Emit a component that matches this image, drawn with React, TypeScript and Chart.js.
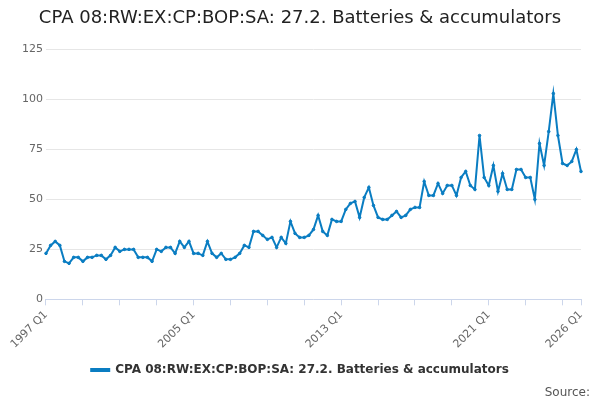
import React, { useEffect, useRef } from "react";
import { Chart, registerables } from "chart.js";
Chart.register(...registerables);

const years = Array.from({ length: 30 }, (_, i) => 1997 + i);
const labels: string[] = [];
years.forEach((y) => ["Q1", "Q2", "Q3", "Q4"].forEach((q) => { if (labels.length < 117) labels.push(`${y} ${q}`); }));
const values = [
  23, 27, 29, 27, 19, 18, 21, 21, 19, 21, 21, 22, 22, 20, 22, 26,
  24, 25, 25, 25, 21, 21, 21, 19, 25, 24, 26, 26, 23, 29, 26,
  29, 23, 23, 22, 29, 23, 21, 23, 20, 20, 21, 23, 27, 26, 34, 34,
  32, 30, 31, 26, 31, 28, 39, 33, 31, 31, 32, 35, 42, 34, 32, 40,
  39, 39, 45, 48, 49, 41, 51, 56, 47, 41, 40, 40, 42, 44, 41, 42,
  45, 46, 46, 59, 52, 52, 58, 53, 57, 57, 52, 61, 64, 57, 55, 82,
  61, 57, 67, 54, 63, 55, 55, 65, 65, 61, 61, 50, 78, 67, 84, 103,
  82, 68, 67, 69, 75, 64,
];
const shownLabels = ["1997 Q1", "2005 Q1", "2013 Q1", "2021 Q1", "2026 Q1"];
const seriesName = "CPA 08:RW:EX:CP:BOP:SA: 27.2. Batteries & accumulators";

export default function App() {
  const ref = useRef<HTMLCanvasElement>(null);
  useEffect(() => {
    const chart = new Chart(ref.current!, {
      type: "line",
      data: {
        labels,
        datasets: [{
          label: seriesName, data: values, borderColor: "#0a7dc2", backgroundColor: "#0a7dc2",
          borderWidth: 2, pointRadius: 1.3, pointHoverRadius: 1.3, pointBorderWidth: 1, tension: 0,
        }],
      },
      options: {
        animation: false, responsive: false,
        layout: { padding: { left: 19, right: 19, top: 0, bottom: 14 } },
        plugins: {
          title: { display: true, text: seriesName, align: "center", color: "#222",
            font: { family: "DejaVu Sans", size: 18, weight: "normal" }, padding: { top: 8, bottom: 20 } },
          legend: { position: "bottom", labels: { color: "#333", font: { family: "DejaVu Sans", size: 12, weight: "bold" }, boxWidth: 18, boxHeight: 2 } },
          tooltip: { enabled: false },
        },
        scales: {
          x: {
            afterBuildTicks: (axis: any) => {
              axis.ticks = axis.ticks.filter((t: any) => t.value % 8 === 0 || t.value === 116);
            },
            ticks: { autoSkip: false, maxRotation: 45, minRotation: 45, color: "#666",
              font: { family: "DejaVu Sans", size: 11 },
              callback: function (this: any, v: any) { const l = labels[v]; return shownLabels.includes(l) ? l : ""; } },
            grid: { drawOnChartArea: false, drawTicks: true, tickLength: 6, color: "#ccd6eb" },
            border: { color: "#ccd6eb" },
          },
          y: {
            min: 0, max: 125,
            ticks: { stepSize: 25, color: "#666", font: { family: "DejaVu Sans", size: 11 } },
            grid: { color: "#e6e6e6", drawTicks: false }, border: { display: false },
          },
        },
      },
      plugins: [{
        id: "src",
        afterDraw: (c: any) => {
          const ctx = c.ctx; ctx.save(); ctx.font = "12px DejaVu Sans"; ctx.fillStyle = "#555";
          ctx.textAlign = "right"; ctx.fillText("Source:", 590, 393); ctx.restore();
        },
      }],
    });
    return () => chart.destroy();
  }, []);
  return <canvas ref={ref} width={600} height={400} style={{ display: "block", position: "absolute", left: 0, top: 0 }} />;
}
